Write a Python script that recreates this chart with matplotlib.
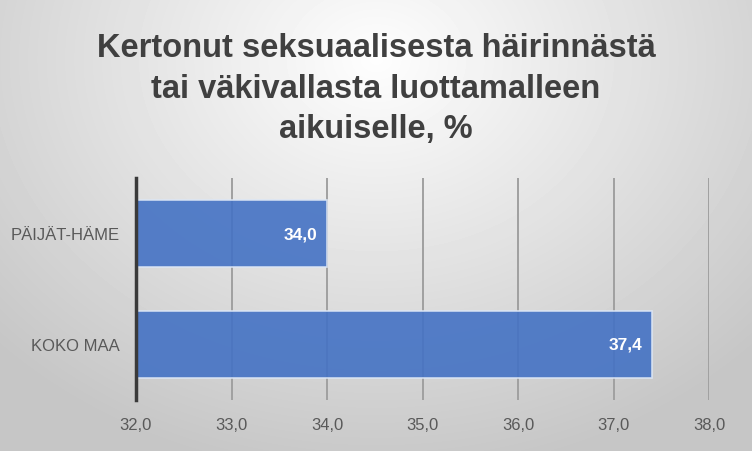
import numpy as np
import matplotlib.pyplot as plt

categories = ['KOKO MAA', 'PÄIJÄT-HÄME']
values = [37.4, 34.0]
value_labels = ['37,4', '34,0']
x_ticks = [32.0, 33.0, 34.0, 35.0, 36.0, 37.0, 38.0]
x_tick_labels = ['32,0', '33,0', '34,0', '35,0', '36,0', '37,0', '38,0']
title = 'Kertonut seksuaalisesta häirinnästä\ntai väkivallasta luottamalleen\naikuiselle, %'

plt.rcParams['font.family'] = ['Liberation Sans Narrow', 'Liberation Sans', 'DejaVu Sans']

fig = plt.figure(figsize=(7.52, 4.52), dpi=100)

# taustan radiaalinen liukuväri
bg = fig.add_axes([0, 0, 1, 1])
yy, xx = np.mgrid[0:452, 0:752]
r = np.sqrt(((xx - 376) / 520.0) ** 2 + ((yy - 60) / 420.0) ** 2)
r = np.clip(r, 0, 1)
shade = 0.995 - 0.22 * r
bg.imshow(shade, cmap='gray', vmin=0, vmax=1, aspect='auto', extent=[0, 1, 0, 1])
bg.set_xlim(0, 1)
bg.set_ylim(0, 1)
bg.axis('off')

ax = fig.add_axes([136 / 752, 1 - 401 / 452, (709 - 136) / 752, 222 / 452])
ax.patch.set_alpha(0)

y = np.arange(len(categories))
ax.barh(y, [v - 32.0 for v in values], left=32.0, height=0.6, color='#4472C4',
        alpha=0.9, edgecolor='#dce6f5', linewidth=1.2, zorder=3)

for xi, lab, v in zip(y, value_labels, values):
    ax.text(v - 0.1, xi, lab, ha='right', va='center', color='white',
            fontsize=12.5, fontweight='bold', zorder=4)

ax.set_xlim(32.0, 38.0)
ax.set_ylim(-0.5, 1.5)
ax.set_xticks(x_ticks)
ax.set_xticklabels(x_tick_labels)
ax.set_yticks(y)
ax.set_yticklabels(categories)
ax.tick_params(axis='both', length=0, labelsize=12, labelcolor='#595959')
ax.tick_params(axis='x', pad=12)
ax.tick_params(axis='y', pad=12)

ax.grid(axis='x', color='#a0a0a0', linewidth=1.4, zorder=1)
ax.set_axisbelow(True)
for s in ['top', 'right', 'bottom']:
    ax.spines[s].set_visible(False)
ax.spines['left'].set_color('#3a3a3a')
ax.spines['left'].set_linewidth(2.5)
ax.spines['left'].set_zorder(5)

fig.text(0.5, 1 - 89 / 452, title, ha='center', va='center', fontsize=23.5,
         fontweight='bold', color='#404040', linespacing=1.4)

plt.savefig('out.png', dpi=100)
